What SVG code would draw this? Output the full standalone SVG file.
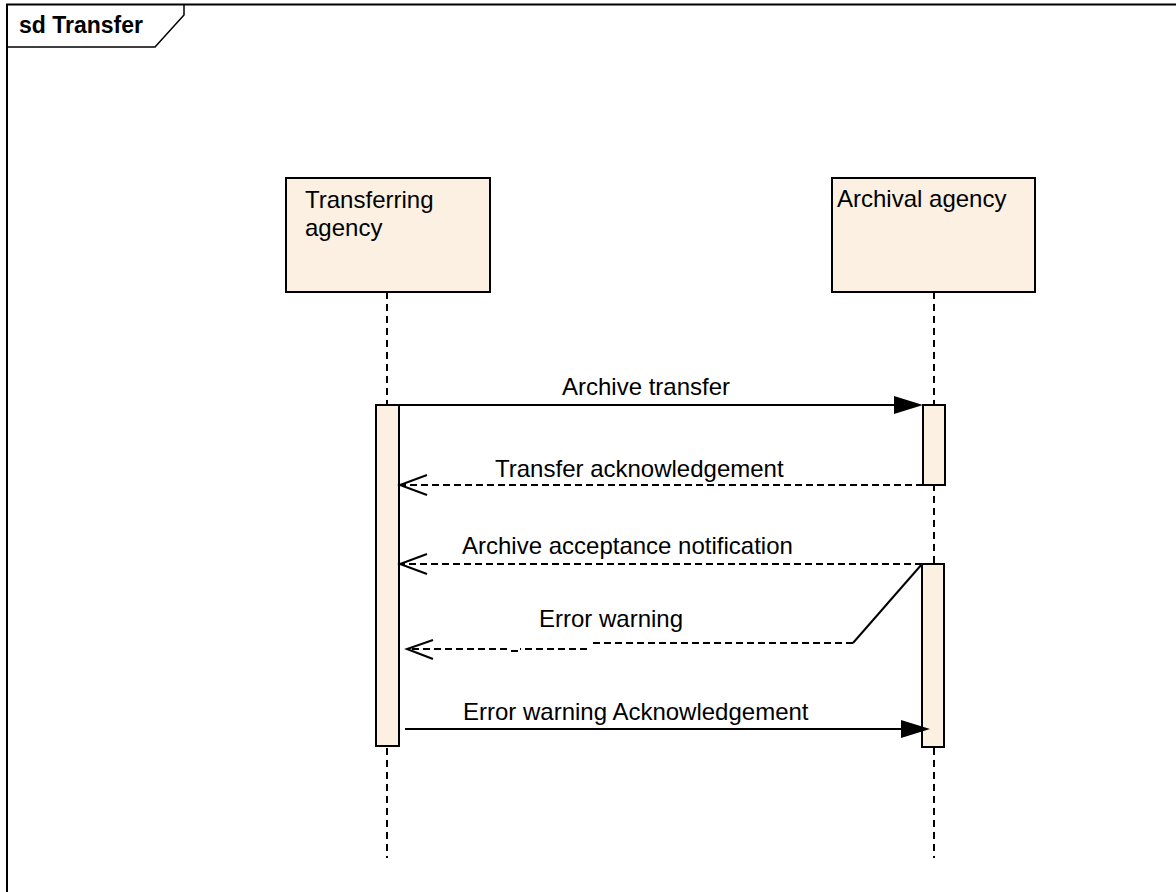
<svg xmlns="http://www.w3.org/2000/svg" width="1176" height="892" viewBox="0 0 1176 892">
<style>
.t{font-family:"Liberation Sans",Arial,sans-serif;font-size:24px;fill:#000}
.b{font-family:"Liberation Sans",Arial,sans-serif;font-size:23px;font-weight:bold;fill:#000}
.box{fill:#FBF0E2;stroke:#000;stroke-width:2}
.life{stroke:#000;stroke-width:2;stroke-dasharray:7 5;fill:none}
.act{fill:#FBF0E2;stroke:#000;stroke-width:2}
.sol{stroke:#000;stroke-width:2;fill:none}
.dash{stroke:#000;stroke-width:2;stroke-dasharray:7 4;fill:none}
.open{stroke:#000;stroke-width:2;fill:none}
</style>
<rect width="1176" height="892" fill="#fff"/>
<g id="frame">
<path d="M7,892 L7,4.5 L1176,4.5" fill="none" stroke="#000" stroke-width="2"/>
<path d="M7,47 L155,47 L184,15 L184,4.5" fill="none" stroke="#000" stroke-width="1.5"/>
<text class="b" x="19" y="33">sd Transfer</text>
</g>
<g id="lifeline-transferring">
<rect class="box" x="286" y="178" width="204" height="114"/>
<text class="t" x="305" y="208">Transferring</text>
<text class="t" x="305" y="236">agency</text>
<line class="life" x1="387" y1="292" x2="387" y2="858"/>
<rect class="act" x="376" y="405" width="23" height="341"/>
</g>
<g id="lifeline-archival">
<rect class="box" x="832" y="178" width="203" height="114"/>
<text class="t" x="837" y="207">Archival agency</text>
<line class="life" x1="934" y1="292" x2="934" y2="858"/>
<rect class="act" x="923" y="405" width="22" height="80"/>
<rect class="act" x="922" y="564" width="22" height="183"/>
</g>
<g id="connectors">
<g id="m1">
<line class="sol" x1="399" y1="405" x2="900" y2="405"/>
<polygon points="894,396 923,405 894,414" fill="#000"/>
<text class="t" x="562" y="395">Archive transfer</text>
</g>
<g id="m2">
<line class="dash" x1="923" y1="485" x2="402" y2="485"/>
<polyline class="open" points="427,475 400,485 427,495"/>
<text class="t" x="495" y="477">Transfer acknowledgement</text>
</g>
<g id="m3">
<line class="dash" x1="922" y1="564" x2="402" y2="564"/>
<polyline class="open" points="427,554 400,564 427,574"/>
<text class="t" x="462" y="554">Archive acceptance notification</text>
</g>
<g id="m4">
<line class="sol" x1="922" y1="564" x2="853" y2="643"/>
<path class="dash" d="M853,643 L590,643"/>
<path class="dash" d="M587,649 L520,649"/>
<line class="sol" x1="511" y1="651" x2="518" y2="651"/>
<path class="dash" d="M507,649 L409,649"/>
<polyline class="open" points="433,640 407,649 433,659"/>
<text class="t" x="539" y="627">Error warning</text>
</g>
<g id="m5">
<line class="sol" x1="405" y1="729" x2="906" y2="729"/>
<polygon points="901,720 930,729 901,738" fill="#000"/>
<text class="t" x="463" y="720">Error warning Acknowledgement</text>
</g>
</g>
</svg>
